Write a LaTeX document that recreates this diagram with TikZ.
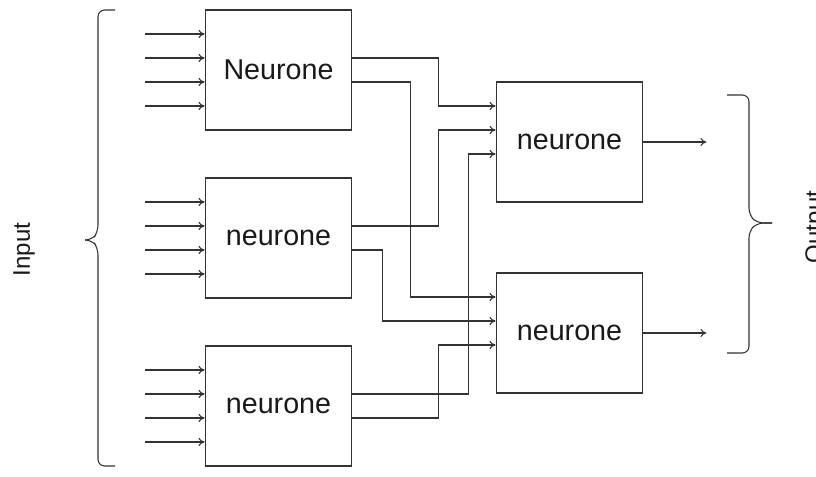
\documentclass[tikz,border=0pt]{standalone}
\usepackage{fontspec}
\setmainfont{Liberation Sans}
\usetikzlibrary{arrows.meta}

\begin{document}
\begin{tikzpicture}[x=0.75pt, y=-0.75pt]
    \tikzset{neuron/.style = {draw=black!80, line width=0.9pt, minimum width=110pt, minimum height=90pt,
        font=\fontsize{21.5}{26}\selectfont, text=black!90}}
    \tikzset{wire/.style = {draw=black!80, line width=0.8pt, -{To[length=4.5pt, width=6pt]}}}
    \tikzset{brace/.style = {draw=black!80, line width=0.8pt, rounded corners=5pt}}
    \tikzset{side/.style = {rotate=90, anchor=north, inner sep=0pt, font=\fontsize{18}{22}\selectfont, text=black!90}}
    \useasboundingbox (0,0) rectangle (816,477);

    % first layer
    \node[neuron] (N1) at (278.5,70) {Neurone};
    \node[neuron] (N2) at (278.5,238) {neurone};
    \node[neuron] (N3) at (278.5,406) {neurone};

    % second layer
    \node[neuron] (O1) at (569.5,142) {neurone};
    \node[neuron] (O2) at (569.5,333) {neurone};

    \node[side] (input) at (13,249.5) {Input};
    \node[side] (output) at (805,227) {Output};

    % inputs
    \foreach \n in {N1, N2, N3}
        \foreach \s in {27, 9, -9, -27}
            \draw[wire] ([xshift=-45pt, yshift=\s pt]\n.west) -- ([yshift=\s pt]\n.west);

    % connections between the layers
    \draw[wire] ([yshift=9pt]N1.east) -- ++(86,0) |- ([yshift=27pt]O1.west);
    \draw[wire] ([yshift=-9pt]N1.east) -- ++(58,0) |- ([yshift=27pt]O2.west);
    \draw[wire] ([yshift=9pt]N2.east) -- ++(86,0) |- ([yshift=9pt]O1.west);
    \draw[wire] ([yshift=-9pt]N2.east) -- ++(30,0) |- ([yshift=9pt]O2.west);
    \draw[wire] ([yshift=9pt]N3.east) -- ++(116,0) |- ([yshift=-9pt]O1.west);
    \draw[wire] ([yshift=-9pt]N3.east) -- ++(86,0) |- ([yshift=-9pt]O2.west);

    % outputs
    \draw[wire] (O1.east) -- ++(63,0);
    \draw[wire] (O2.east) -- ++(63,0);

    % braces
    \draw[brace] (115,10) -- (98,10) -- (98,232) -- (92,240) -- (85,240);
    \draw[brace] (115,466) -- (98,466) -- (98,248) -- (92,240) -- (85,240);
    \draw[brace] (727,95) -- (749,95) -- (749,215) -- (757,223) -- (772,223);
    \draw[brace] (727,353) -- (749,353) -- (749,231) -- (757,223) -- (772,223);
\end{tikzpicture}
\end{document}
